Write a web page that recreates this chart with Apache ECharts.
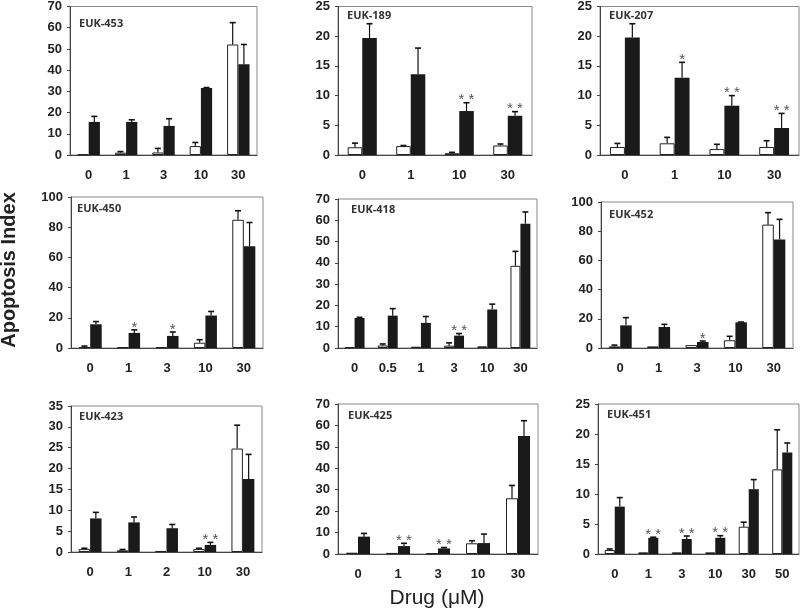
<!DOCTYPE html>
<html lang="en">
<head>
<meta charset="UTF-8">
<title>Apoptosis Index vs Drug dose</title>
<script src="https://cdn.jsdelivr.net/npm/echarts@6.0.0/dist/echarts.min.js"></script>
<style>
  body { margin: 0; background: #fff; }
  #main { width: 800px; height: 613px; }
</style>
</head>
<body>
<div id="main"></div>
<script>
// values: white = open bars, black = filled bars, err = upward error bar
const doses453 = ['0', '1', '3', '10', '30'];
const white453 = [0.3, 1.1, 1.2, 4.2, 52.1];
const whiteErr453 = [0, 0.5, 1.9, 1.7, 10.3];
const black453 = [15.6, 15.6, 13.7, 31.6, 42.8];
const blackErr453 = [2.6, 1.0, 3.4, 0.2, 9.3];
const stars453 = ['', '', '', '', ''];

const doses189 = ['0', '1', '10', '30'];
const white189 = [1.3, 1.5, 0.3, 1.6];
const whiteErr189 = [0.7, 0.1, 0.15, 0.25];
const black189 = [19.7, 13.6, 7.4, 6.6];
const blackErr189 = [2.4, 4.4, 1.4, 0.7];
const stars189 = ['', '', '**', '**'];

const doses207 = ['0', '1', '10', '30'];
const white207 = [1.35, 1.97, 1.0, 1.35];
const whiteErr207 = [0.6, 1.0, 0.8, 1.05];
const black207 = [19.8, 13.0, 8.3, 4.55];
const blackErr207 = [2.3, 2.6, 1.7, 2.45];
const stars207 = ['', '*', '**', '**'];

const doses450 = ['0', '1', '3', '10', '30'];
const white450 = [0.7, 0.4, 0.6, 3.5, 84.9];
const whiteErr450 = [0.6, 0, 0, 2.0, 6.0];
const black450 = [15.7, 10.0, 8.0, 21.5, 67.4];
const blackErr450 = [1.8, 2.0, 2.6, 2.7, 15.7];
const stars450 = ['', '*', '*', '', ''];

const doses418 = ['0', '0.5', '1', '3', '10', '30'];
const white418 = [0.3, 1.2, 0.6, 1.1, 0.8, 38.6];
const whiteErr418 = [0, 0.7, 0, 1.3, 0, 6.8];
const black418 = [14.1, 15.2, 11.8, 5.8, 18.1, 58.4];
const blackErr418 = [0.3, 3.3, 3.0, 1.0, 2.5, 5.5];
const stars418 = ['', '', '', '**', '', ''];

const doses452 = ['0', '1', '3', '10', '30'];
const white452 = [1.1, 1.1, 2.0, 5.3, 84.5];
const whiteErr452 = [0.9, 0, 0, 2.7, 8.2];
const black452 = [15.5, 14.4, 4.1, 17.6, 74.4];
const blackErr452 = [5.3, 1.8, 0.7, 0.2, 13.7];
const stars452 = ['', '', '*', '', ''];

const doses423 = ['0', '1', '2', '10', '30'];
const white423 = [0.7, 0.4, 0.25, 0.7, 24.8];
const whiteErr423 = [0.2, 0.2, 0, 0.2, 5.6];
const black423 = [8.05, 7.1, 5.7, 1.7, 17.5];
const blackErr423 = [1.45, 1.3, 0.9, 0.6, 5.9];
const stars423 = ['', '', '', '**', ''];

const doses425 = ['0', '1', '3', '10', '30'];
const white425 = [0.6, 0.5, 0.3, 5.0, 26.0];
const whiteErr425 = [0, 0, 0, 1.2, 6.0];
const black425 = [8.1, 3.7, 2.6, 5.1, 55.1];
const blackErr425 = [1.5, 1.3, 0.4, 4.2, 7.1];
const stars425 = ['', '**', '**', '', ''];

const doses451 = ['0', '1', '3', '10', '30', '50'];
const white451 = [0.67, 0.28, 0.28, 0.28, 4.55, 14.1];
const whiteErr451 = [0.16, 0, 0, 0, 0.75, 6.6];
const black451 = [7.9, 2.7, 2.5, 2.7, 10.8, 16.9];
const blackErr451 = [1.5, 0.1, 0.5, 0.35, 1.6, 1.6];
const stars451 = ['', '**', '**', '**', '', ''];

const panelNames = ['EUK-453', 'EUK-189', 'EUK-207', 'EUK-450', 'EUK-418', 'EUK-452', 'EUK-423', 'EUK-425', 'EUK-451'];
const yMax = [70, 25, 25, 100, 70, 100, 35, 70, 25];
const yStep = [10, 5, 5, 20, 10, 20, 5, 10, 5];

const panels = [
  [doses453, white453, whiteErr453, black453, blackErr453, stars453],
  [doses189, white189, whiteErr189, black189, blackErr189, stars189],
  [doses207, white207, whiteErr207, black207, blackErr207, stars207],
  [doses450, white450, whiteErr450, black450, blackErr450, stars450],
  [doses418, white418, whiteErr418, black418, blackErr418, stars418],
  [doses452, white452, whiteErr452, black452, blackErr452, stars452],
  [doses423, white423, whiteErr423, black423, blackErr423, stars423],
  [doses425, white425, whiteErr425, black425, blackErr425, stars425],
  [doses451, white451, whiteErr451, black451, blackErr451, stars451]
];

// plot boxes, in px
const boxes = [
  { left: 70, top: 5, width: 187, height: 150, tx: 79, ty: 18 },
  { left: 338, top: 6, width: 194, height: 149, tx: 347, ty: 10 },
  { left: 600, top: 6, width: 199, height: 149, tx: 609, ty: 10 },
  { left: 71, top: 197, width: 192, height: 151, tx: 77, ty: 203 },
  { left: 338, top: 199, width: 199, height: 149, tx: 351, ty: 204 },
  { left: 601, top: 202, width: 192, height: 146, tx: 609, ty: 209 },
  { left: 71, top: 406, width: 191, height: 146, tx: 79, ty: 411 },
  { left: 338, top: 404, width: 200, height: 150, tx: 348, ty: 410 },
  { left: 598, top: 404, width: 201, height: 150, tx: 607, ty: 409 }
];

const FONT = 'Arial, "Liberation Sans", sans-serif';

var chart = echarts.init(document.getElementById('main'));

function errorSeries(k, side, vals, errs, stars) {
  return {
    type: 'custom',
    xAxisIndex: k,
    yAxisIndex: k,
    z: 5,
    silent: true,
    data: vals.map((v, i) => [i, v, errs[i]]),
    renderItem: function (params, api) {
      const i = api.value(0), v = api.value(1), e = api.value(2);
      const band = api.size([1, 0])[0];
      const p0 = api.coord([i, v]);
      const p1 = api.coord([i, v + e]);
      const x = p0[0] + side * band * 0.15;
      const children = [];
      if (e > 0) {
        children.push({ type: 'line', shape: { x1: x, y1: p0[1], x2: x, y2: p1[1] }, style: { stroke: '#111', lineWidth: 1.2 } });
        children.push({ type: 'line', shape: { x1: x - 3, y1: p1[1], x2: x + 3, y2: p1[1] }, style: { stroke: '#111', lineWidth: 1.6 } });
      }
      const s = stars ? stars[params.dataIndex] : '';
      if (s) {
        children.push({
          type: 'text', x: x, y: p1[1] - 10,
          style: { text: s.split('').join(' '), font: '15px ' + FONT, fill: '#555', align: 'center', verticalAlign: 'top' }
        });
      }
      return { type: 'group', children: children };
    }
  };
}

var grids = [], xAxes = [], yAxes = [], series = [], graphics = [];

panels.forEach(function (p, k) {
  const b = boxes[k];
  grids.push({ left: b.left, top: b.top, width: b.width, height: b.height, show: true, borderColor: '#888', borderWidth: 1, containLabel: false });
  xAxes.push({
    type: 'category', gridIndex: k, data: p[0],
    axisLine: { lineStyle: { color: '#444', width: 1 } },
    axisTick: { length: 4, lineStyle: { color: '#444' } },
    axisLabel: { margin: 14, fontFamily: FONT, fontWeight: 'bold', fontSize: 13, color: '#222' }
  });
  yAxes.push({
    type: 'value', gridIndex: k, min: 0, max: yMax[k], interval: yStep[k],
    splitLine: { show: false },
    axisLine: { show: true, lineStyle: { color: '#444', width: 1 } },
    axisTick: { show: true, length: 3, lineStyle: { color: '#444' } },
    axisLabel: { margin: 8, fontFamily: FONT, fontWeight: 'bold', fontSize: 13, color: '#222' }
  });
  series.push({
    type: 'bar', xAxisIndex: k, yAxisIndex: k, data: p[1],
    barWidth: '30%', barGap: '0%',
    itemStyle: { color: '#fff', borderColor: '#222', borderWidth: 1 }
  });
  series.push({
    type: 'bar', xAxisIndex: k, yAxisIndex: k, data: p[3],
    barWidth: '30%', barGap: '0%',
    itemStyle: { color: '#1a1a1a' }
  });
  series.push(errorSeries(k, -1, p[1], p[2], null));
  series.push(errorSeries(k, 1, p[3], p[4], p[5]));
  graphics.push({
    type: 'text', left: b.tx, top: b.ty,
    style: { text: panelNames[k], font: 'bold 11px "Open Sans", sans-serif', fill: '#333' }
  });
});

graphics.push({
  type: 'text', x: 9, y: 270, rotation: Math.PI / 2,
  style: { text: 'Apoptosis Index', font: 'bold 20px ' + FONT, fill: '#222', align: 'center', verticalAlign: 'middle' }
});
graphics.push({
  type: 'text', x: 437, y: 598,
  style: { text: 'Drug (\u03bcM)', font: '21px ' + FONT, fill: '#222', align: 'center', verticalAlign: 'middle' }
});

chart.setOption({
  animation: false,
  grid: grids,
  xAxis: xAxes,
  yAxis: yAxes,
  series: series,
  graphic: graphics
});
</script>
</body>
</html>
